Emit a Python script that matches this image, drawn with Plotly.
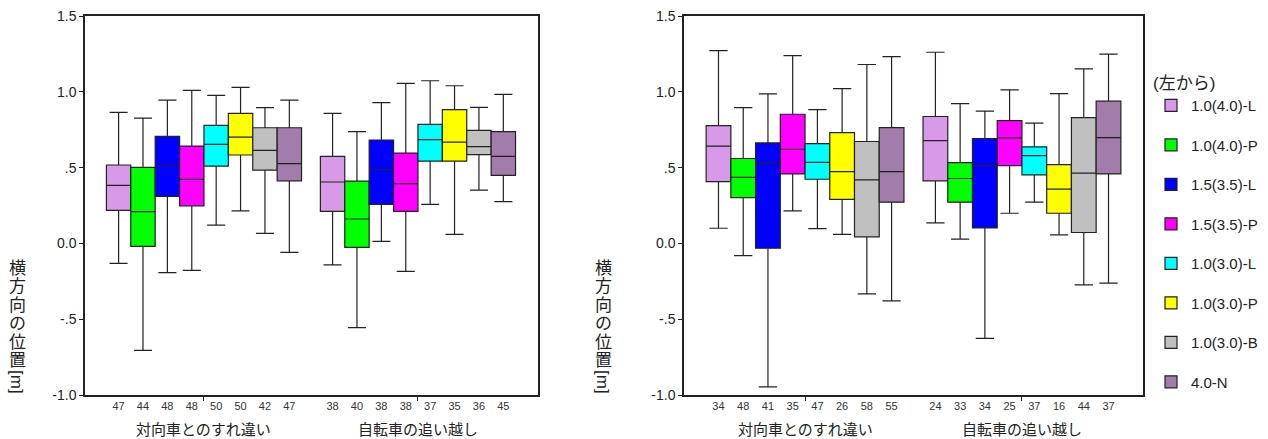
import plotly.graph_objects as go

# ---------------- data ----------------
groups = ["対向車とのすれ違い", "自転車の追い越し"]
series = ["1.0(4.0)-L", "1.0(4.0)-P", "1.5(3.5)-L", "1.5(3.5)-P",
          "1.0(3.0)-L", "1.0(3.0)-P", "1.0(3.0)-B", "4.0-N"]
colors = ["#D89AE8", "#00FF00", "#0000FF", "#FF00FF",
          "#00FFFF", "#FFFF00", "#C0C0C0", "#A27CAA"]

# Left panel (group 1 list, group 2 list), one value per series
left_lo = ([-0.132, -0.706, -0.193, -0.178, 0.121, 0.215, 0.066, -0.059],
           [-0.141, -0.556, 0.013, -0.185, 0.257, 0.059, 0.352, 0.275])
left_q1 = ([0.218, -0.020, 0.310, 0.248, 0.510, 0.583, 0.484, 0.413],
           [0.211, -0.026, 0.257, 0.211, 0.543, 0.543, 0.585, 0.449])
left_med = ([0.383, 0.209, 0.517, 0.422, 0.653, 0.701, 0.613, 0.526],
            [0.405, 0.161, 0.486, 0.394, 0.684, 0.668, 0.638, 0.574])
left_q3 = ([0.517, 0.501, 0.706, 0.642, 0.778, 0.858, 0.763, 0.763],
           [0.574, 0.411, 0.682, 0.596, 0.785, 0.882, 0.745, 0.737])
left_hi = ([0.864, 0.827, 0.945, 1.009, 0.976, 1.029, 0.895, 0.945],
           [0.858, 0.737, 0.928, 1.055, 1.073, 1.040, 0.897, 0.983])
left_n = ([47, 44, 48, 48, 50, 50, 42, 47],
          [38, 40, 38, 38, 37, 35, 36, 45])

# Right panel
right_lo = ([0.100, -0.081, -0.947, 0.214, 0.098, 0.060, -0.333, -0.379],
            [0.135, 0.028, -0.626, 0.199, 0.272, 0.056, -0.273, -0.262])
right_q1 = ([0.408, 0.302, -0.032, 0.458, 0.423, 0.291, 0.043, 0.272],
            [0.412, 0.272, 0.102, 0.513, 0.452, 0.199, 0.072, 0.458])
right_med = ([0.641, 0.436, 0.529, 0.621, 0.535, 0.474, 0.419, 0.474],
             [0.678, 0.428, 0.513, 0.696, 0.579, 0.358, 0.463, 0.698])
right_q3 = ([0.777, 0.560, 0.663, 0.852, 0.658, 0.731, 0.672, 0.764],
            [0.837, 0.533, 0.692, 0.810, 0.637, 0.520, 0.830, 0.938])
right_hi = ([1.272, 0.896, 0.986, 1.239, 0.883, 1.021, 1.180, 1.232],
            [1.261, 0.922, 0.872, 1.013, 0.793, 0.988, 1.151, 1.248])
right_n = ([34, 48, 41, 35, 47, 26, 58, 55],
           [24, 33, 34, 25, 37, 16, 44, 37])

y_tickvals = [1.5, 1.0, 0.5, 0.0, -0.5, -1.0]
y_ticktext = ["1.5", "1.0", ".5", "0.0", "-.5", "-1.0"]
y_title_chars = ["横", "方", "向", "の", "位", "置"]
y_title_unit = "[m]"
legend_title = "(左から)"

# ---------------- layout constants ----------------
FONT = "Liberation Sans, Arial, Noto Sans CJK JP, sans-serif"
W, H = 1268, 439
BW = 0.114  # box width in category units
group_pos = [0, 1]

fig = go.Figure()

panels = [
    dict(lo=left_lo, q1=left_q1, med=left_med, q3=left_q3, hi=left_hi, n=left_n,
         xa="x", ya="y", legend=False),
    dict(lo=right_lo, q1=right_q1, med=right_med, q3=right_q3, hi=right_hi, n=right_n,
         xa="x2", ya="y2", legend=True),
]

tick_positions = []
tick_labels = []
for p in panels:
    tp, tl = [], []
    for i, s in enumerate(series):
        off = (i - 3.5) * BW
        xs = [g + off for g in group_pos]
        fig.add_trace(go.Box(
            x=xs,
            lowerfence=[p["lo"][0][i], p["lo"][1][i]],
            q1=[p["q1"][0][i], p["q1"][1][i]],
            median=[p["med"][0][i], p["med"][1][i]],
            q3=[p["q3"][0][i], p["q3"][1][i]],
            upperfence=[p["hi"][0][i], p["hi"][1][i]],
            orientation="v",
            width=BW,
            whiskerwidth=0.74,
            boxpoints=False,
            fillcolor=colors[i],
            line=dict(color="#222222", width=1.2),
            name=s,
            legendgroup=s,
            showlegend=p["legend"],
            xaxis=p["xa"], yaxis=p["ya"],
        ))
        for gi, g in enumerate(group_pos):
            tp.append(g + off)
            tl.append(str(p["n"][gi][i]))
    tick_positions.append(tp)
    tick_labels.append(tl)

left_dom = [85 / W, 538 / W]
right_dom = [684 / W, 1143 / W]
y_dom = [1 - 395 / H, 1 - 16 / H]
left_range = [-0.556, 1.561]
right_range = [-0.558, 1.558]

axis_line = dict(showline=True, linecolor="#222222", linewidth=1.5, mirror=True,
                 showgrid=False, zeroline=False)

def yaxis_cfg(anchor):
    return dict(domain=y_dom, range=[-1.0, 1.5], anchor=anchor,
                tickmode="array", tickvals=y_tickvals, ticktext=y_ticktext,
                ticks="outside", ticklen=4, tickcolor="#222222",
                tickfont=dict(family=FONT, size=14, color="#222222"), **axis_line)

def xaxis_cfg(dom, rng, tv, tt, anchor):
    return dict(domain=dom, range=rng, anchor=anchor,
                tickmode="array", tickvals=tv, ticktext=tt, ticks="",
                minor=dict(tickmode="array", tickvals=group_pos, ticks="outside",
                           ticklen=4, tickcolor="#222222", showgrid=False),
                tickfont=dict(family=FONT, size=11, color="#333333"), **axis_line)

fig.update_layout(
    width=W, height=H,
    margin=dict(l=0, r=0, t=0, b=0, autoexpand=False),
    paper_bgcolor="white", plot_bgcolor="white",
    boxmode="overlay",
    xaxis=xaxis_cfg(left_dom, left_range, tick_positions[0], tick_labels[0], "y"),
    xaxis2=xaxis_cfg(right_dom, right_range, tick_positions[1], tick_labels[1], "y2"),
    yaxis=yaxis_cfg("x"),
    yaxis2=yaxis_cfg("x2"),
    legend=dict(
        x=1151 / W, y=1 - 67 / H, xanchor="left", yanchor="top",
        title=dict(text=legend_title, font=dict(family=FONT, size=17, color="#222222")),
        font=dict(family=FONT, size=15, color="#222222"),
        tracegroupgap=17, itemwidth=30, bgcolor="rgba(0,0,0,0)",
    ),
    showlegend=True,
)

annotations = []
# group labels under each panel
for xa in ["x", "x2"]:
    for g, name in zip(group_pos, groups):
        annotations.append(dict(
            text=name, xref=xa, yref="paper", x=g, y=1 - 429 / H,
            xanchor="center", yanchor="middle", showarrow=False,
            font=dict(family=FONT, size=15, color="#222222")))
# vertical y-axis titles
for xc in [17, 603]:
    for k, ch in enumerate(y_title_chars):
        yc = 268 + k * 18.5
        annotations.append(dict(
            text=ch, xref="paper", yref="paper", x=xc / W, y=1 - yc / H,
            xanchor="center", yanchor="middle", showarrow=False,
            font=dict(family=FONT, size=17, color="#222222")))
    annotations.append(dict(
        text=y_title_unit, xref="paper", yref="paper", x=xc / W, y=1 - 382 / H,
        xanchor="center", yanchor="middle", showarrow=False, textangle=90,
        font=dict(family=FONT, size=17, color="#222222")))
fig.update_layout(annotations=annotations)

fig.write_html(
    "out.html",
    config={"displayModeBar": False},
    post_script="document.body.style.margin='0';document.body.style.overflow='hidden';",
)
